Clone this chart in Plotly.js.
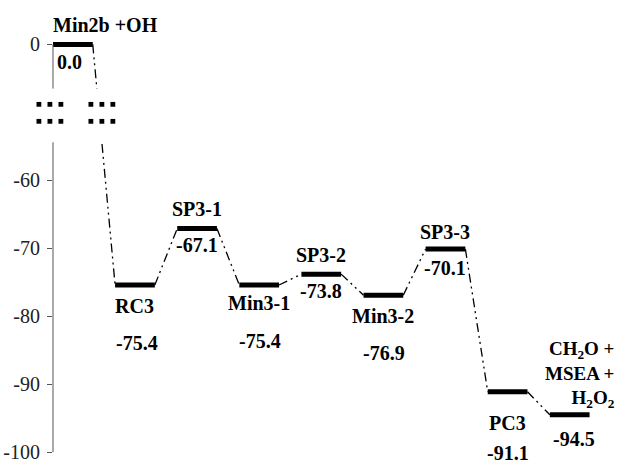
<!DOCTYPE html>
<html>
<head>
<meta charset="utf-8">
<script src="https://cdn.plot.ly/plotly-3.0.1.min.js"></script>
<style>html,body{margin:0;padding:0;background:#fff}#chart{width:621px;height:460px}</style>
</head>
<body>
<div id="chart"></div>
<script>
// ---- data ----
const states = ['Min2b +OH', 'RC3', 'SP3-1', 'Min3-1', 'SP3-2', 'Min3-2', 'SP3-3', 'PC3',
  'CH<sub>2</sub>O +<br>MSEA +<br>H<sub>2</sub>O<sub>2</sub>'];
const energies = [0.0, -75.4, -67.1, -75.4, -73.8, -76.9, -70.1, -91.1, -94.5];
const tickValues = [0, -60, -70, -80, -90, -100];

// ---- broken axis: values above the break are shifted down ----
const BREAK_ABOVE = -30, BREAK_SHIFT = -40;
const disp = v => (v > BREAK_ABOVE ? v + BREAK_SHIFT : v);

// ---- layout constants ----
const HALF = 0.32;               // half bar width (x units)
const XR = [-0.32, 8.665], YR = [-101, -37];
const FONT = 'Liberation Serif';

// name / value label offsets (px, + = up)
const nameShift  = [19, -21, 20, -18, 19, -21, 17, -31, 2];
const valueShift = [-18, -58, -16, -56, -17, -58, -19, -61, -24];
const nameXShift = [0, 0, 0, 0, 0, 0, 0, 0, 47];
const valueXShift = [-3, 2, 0, 1, 0, 1, 0, 0, 4];

// level bars
const lx = [], ly = [];
energies.forEach((e, i) => { lx.push(i - HALF, i + HALF, null); ly.push(disp(e), disp(e), null); });
// connectors
const cx = [], cy = [];
for (let i = 0; i < energies.length - 1; i++) {
  cx.push(i + HALF, i + 1 - HALF, null);
  cy.push(disp(energies[i]), disp(energies[i + 1]), null);
}

const traces = [
  {x: cx, y: cy, mode: 'lines', line: {color: '#000', width: 1.3, dash: '9px,4px,2px,4px,2px,4px'}, hoverinfo: 'skip'},
  {x: lx, y: ly, mode: 'lines', line: {color: '#000', width: 5}, hoverinfo: 'skip'}
];

const annotations = [];
energies.forEach((e, i) => {
  const isFirst = i === 0, isLast = i === energies.length - 1;
  annotations.push({
    x: isFirst ? i - HALF : i, y: disp(e), xref: 'x', yref: 'y',
    text: states[i], showarrow: false,
    xanchor: isFirst ? 'left' : (isLast ? 'right' : 'center'),
    align: isLast ? 'right' : 'center',
    yanchor: isLast ? 'bottom' : 'middle', yshift: nameShift[i], xshift: isFirst ? -2 : nameXShift[i],
    font: {family: FONT, size: isLast ? 19 : 20, color: '#000', weight: 'bold'}
  });
  annotations.push({
    x: i, y: disp(e), xref: 'x', yref: 'y', text: e.toFixed(1), showarrow: false,
    xanchor: 'center', yanchor: 'middle', yshift: valueShift[i], xshift: valueXShift[i],
    font: {family: FONT, size: 20, color: '#000', weight: 'bold'}
  });
});

// helpers to paper coords
const px = x => (x - XR[0]) / (XR[1] - XR[0]);
const py = y => (y - YR[0]) / (YR[1] - YR[0]);

const gapTop = -46.5, gapBot = -54.4;   // visual break band (display units)
const shapes = [
  {type: 'line', xref: 'paper', yref: 'paper', x0: 0, x1: 0, y0: py(disp(0)), y1: py(gapTop), line: {color: '#555', width: 1}},
  {type: 'line', xref: 'paper', yref: 'paper', x0: 0, x1: 0, y0: py(gapBot), y1: py(-100), line: {color: '#555', width: 1}},
  {type: 'rect', xref: 'paper', yref: 'paper', x0: px(0.2), x1: px(0.75), y0: py(gapBot), y1: py(gapTop), fillcolor: '#fff', line: {width: 0}, layer: 'above'}
];
const markCols = [-0.547, -0.370, -0.193, 0.29, 0.467, 0.644];
const markRows = [-48.82, -51.32];
markRows.forEach(r => markCols.forEach(c => shapes.push({
  type: 'rect', xref: 'paper', yref: 'paper', xsizemode: 'pixel', ysizemode: 'pixel',
  xanchor: px(c), yanchor: py(r), x0: -2.4, x1: 2.4, y0: -2.4, y1: 2.4,
  fillcolor: '#000', line: {width: 0}, layer: 'above'
})));

const layout = {
  width: 621, height: 460,
  margin: {l: 53, r: 10, t: 24, b: 1},
  paper_bgcolor: '#fff', plot_bgcolor: '#fff',
  showlegend: false,
  xaxis: {range: XR, visible: false, fixedrange: true},
  yaxis: {
    range: YR, tickvals: tickValues.map(disp), ticktext: tickValues.map(String),
    ticks: 'outside', ticklen: 5, tickcolor: '#555', tickwidth: 1, ticklabelstandoff: 3,
    ticklabeloverflow: 'allow',
    showline: false, showgrid: false, zeroline: false,
    tickfont: {family: FONT, size: 20, color: '#222'}
  },
  annotations: annotations,
  shapes: shapes
};

Plotly.newPlot('chart', traces, layout, {displayModeBar: false, staticPlot: true});
</script>
</body>
</html>
